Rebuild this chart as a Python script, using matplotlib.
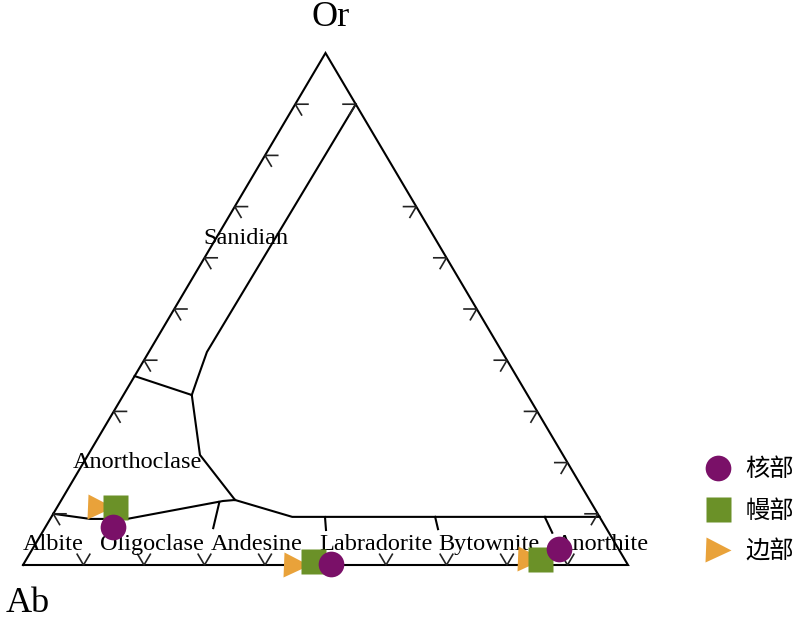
"""Feldspar ternary diagram (Ab - An - Or) with core / mantle / rim analyses."""
import numpy as np
import matplotlib.pyplot as plt

###################################################################################################
# Data (mol %, Ab = 100 - An - Or)
###################################################################################################

core_an = [11.2, 50.8, 87.0]
core_or = [7.4, 0.2, 3.1]

mantle_an = [9.6, 47.5, 84.9]
mantle_or = [11.3, 0.8, 1.2]

rim_an = [7.1, 45.1, 83.2]
rim_or = [11.3, 0.0, 1.2]

series_labels = ['核部', '幔部', '边部']
series_colors = ['#7a1068', '#6b9128', '#e9a23a']

# field boundaries as (An, Or) points
sanidine_an = [10.0, 9.6, 10.7, 11.3]
sanidine_or = [90.0, 41.6, 36.1, 33.2]

ano_left_an = [11.3, 0.0]
ano_left_or = [33.2, 36.9]

ano_lower_an = [11.3, 18.5, 28.7]
ano_lower_or = [33.2, 21.5, 12.7]

plag_top_an = [28.7, 39.8, 90.6]
plag_top_or = [12.7, 9.4, 9.4]

alkali_an = [0.0, 6.6, 12.7, 26.8, 28.7]
alkali_or = [10.0, 9.0, 9.0, 12.5, 12.7]

# plagioclase dividers: An/(An+Ab) ratio, Or at top and bottom end
divider_ratio = [0.3, 0.5, 0.7, 0.9]
divider_or_top = [12.3, 9.4, 9.4, 9.4]
divider_or_bot = [7.2, 6.8, 7.0, 6.3]

# edge tick values (%)
left_ticks = [10, 30, 40, 50, 60, 70, 80, 90]      # Or on Ab-Or edge
right_ticks = [10, 20, 30, 40, 50, 60, 70, 90]     # Or on An-Or edge
bottom_ticks = [10, 20, 30, 40, 50, 60, 70, 80, 90]  # An on Ab-An edge

field_names = ['Albite', 'Oligoclase', 'Andesine', 'Labradorite', 'Bytownite', 'Anorthite']


# Helper Functions ################################################################################

def to_xy(an, orr):
    """Ternary (An, Or in %) -> plot coordinates"""
    an = np.asarray(an, dtype=float) / 100
    o = np.asarray(orr, dtype=float) / 100
    return an + 0.5 * o, o


def line(ax, an, orr, lw=1.5, color='black'):
    x, y = to_xy(an, orr)
    ax.plot(x, y, color=color, lw=lw, solid_joinstyle='miter', zorder=2)


def draw_ticks(ax):
    """Small two-armed ticks along the three edges"""
    t = 2.1
    kw = dict(lw=1.2, color='#222222')
    for v in left_ticks:
        # horizontal arm into the field, other arm parallel to the Or-An edge
        line(ax, [t, 0, t], [v, v, v - t], **kw)
    for v in right_ticks:
        an = 100 - v
        line(ax, [an - t, an, an], [v, v, v - t], **kw)
    for v in bottom_ticks:
        line(ax, [v - t, v, v], [t, 0, t], **kw)


###################################################################################################
# Plot
###################################################################################################

def plot_diagram():
    fig = plt.figure(figsize=(8, 6.21), dpi=100)
    ax = fig.add_axes([0, 0, 1, 1])
    ax.set_xlim(-23 / 605, 777 / 605)
    ax.set_ylim(-56 / 512, 565 / 512)
    ax.axis('off')

    # outline
    line(ax, [0, 100, 0, 0], [0, 0, 100, 0])

    line(ax, sanidine_an, sanidine_or)
    line(ax, ano_left_an, ano_left_or)
    line(ax, ano_lower_an, ano_lower_or)
    line(ax, plag_top_an, plag_top_or)
    line(ax, alkali_an, alkali_or)
    for r, o1, o2 in zip(divider_ratio, divider_or_top, divider_or_bot):
        line(ax, [r * (100 - o1), r * (100 - o2)], [o1, o2])

    draw_ticks(ax)

    serif = 'Liberation Serif'
    ax.text(0.509, 1.053, 'Or', fontsize=26, family=serif, ha='center', va='baseline')
    ax.text(0.008, -0.091, 'Ab', fontsize=26, family=serif, ha='center', va='baseline')
    ax.text(0.368, 0.627, 'Sanidian', fontsize=17.5, family=serif, ha='center', va='baseline')
    ax.text(0.190, 0.189, 'Anorthoclase', fontsize=17.5, family=serif, ha='center', va='baseline')
    name_x = [0.050, 0.213, 0.387, 0.583, 0.770, 0.958]
    for name, x in zip(field_names, name_x):
        ax.text(x, 0.029, name, fontsize=17.5, family=serif, ha='center', va='baseline')

    # samples
    x, y = to_xy(rim_an, rim_or)
    h_rim, = ax.plot(x, y, ls='none', marker='>', ms=18, color=series_colors[2], mec='none',
                     zorder=3, label=series_labels[2])
    x, y = to_xy(mantle_an, mantle_or)
    h_mantle, = ax.plot(x, y, ls='none', marker='s', ms=18, color=series_colors[1], mec='none',
                        zorder=4, label=series_labels[1])
    x, y = to_xy(core_an, core_or)
    h_core, = ax.plot(x, y, ls='none', marker='o', ms=18.5, color=series_colors[0], mec='none',
                      zorder=5, label=series_labels[0])

    ax.legend(handles=[h_core, h_mantle, h_rim], loc='center left',
              bbox_to_anchor=(0.881, 0.178), bbox_transform=fig.transFigure,
              frameon=False, borderpad=0, borderaxespad=0, handlelength=1.05,
              handletextpad=0.62, labelspacing=0.62,
              prop={'family': ['Noto Sans CJK SC', 'DejaVu Sans'], 'size': 17.5})

    fig.savefig('out.png', dpi=100)


##################################################################################################


if __name__ == '__main__':
    plot_diagram()
